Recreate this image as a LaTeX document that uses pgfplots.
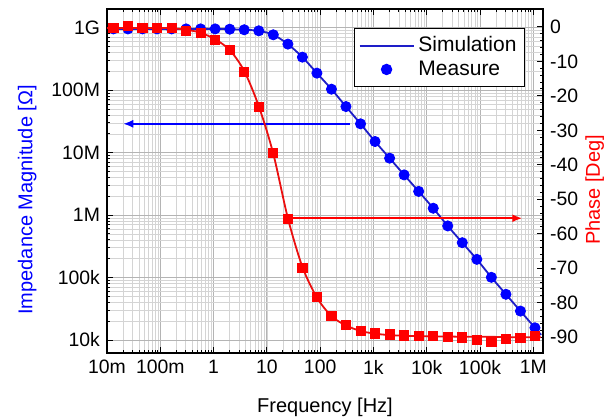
\documentclass[border=0pt]{standalone}
\usepackage{fontspec}
\setmainfont{Liberation Sans}
\usepackage{pgfplots}
\usepackage{pgfplotstable}
\pgfplotsset{compat=1.18}
\usetikzlibrary{arrows.meta}

\definecolor{mblue}{RGB}{0,0,255}
\definecolor{lblue}{RGB}{30,30,200}
\definecolor{mred}{RGB}{255,0,0}
\definecolor{lred}{RGB}{235,15,15}
\definecolor{gridmaj}{RGB}{180,180,180}
\definecolor{gridmin}{RGB}{212,212,212}

\pgfplotsset{
  lineleg/.style={legend image code/.code={\draw[##1] (0pt,0pt) -- (27pt,0pt);}},
  markleg/.style={legend image code/.code={\draw[##1] plot coordinates {(13.5pt,0pt)};}},
}

% measured points: frequency [Hz], |Z| [Ohm], phase [deg]
\pgfplotstableread{
f        z       ph
0.0132   9.6e8   -0.4
0.0247   9.6e8   0.3
0.0463   9.6e8   -0.4
0.0868   9.6e8   -0.4
0.163    9.6e8   -0.4
0.305    9.6e8   -1.1
0.571    9.6e8   -1.8
1.07     9.6e8   -3.8
2.01     9.5e8   -6.7
3.76     9.3e8   -13.0
7.05     8.95e8  -23.1
13.2     7.73e8  -36.5
24.8     5.48e8  -55.8
46.4     3.39e8  -69.9
86.9     1.88e8  -78.3
163      1.04e8  -83.9
305      5.48e7  -86.5
572      2.90e7  -88.2
1072     1.51e7  -88.9
2010     8.17e6  -89.2
3767     4.41e6  -89.5
7060     2.40e6  -89.6
13240    1.29e6  -89.7
24790    6.72e5  -89.9
46450    3.62e5  -90.1
87100    1.96e5  -90.7
163300   1.01e5  -91.4
306200   5.40e4  -90.4
573000   2.91e4  -90.2
1074000  1.57e4  -89.7
}\meas

% simulated curves
\pgfplotstableread{
f        z       ph
0.01     9.6e8   -0.3
0.0247   9.6e8   -0.3
0.0868   9.6e8   -0.3
0.163    9.6e8   -0.4
0.305    9.6e8   -0.8
0.571    9.6e8   -1.7
1.07     9.6e8   -3.6
2.01     9.5e8   -6.7
3.76     9.3e8   -12.8
7.05     8.95e8  -23.0
13.2     7.73e8  -36.8
24.8     5.48e8  -55.5
46.4     3.39e8  -69.6
86.9     1.88e8  -78.5
163      1.04e8  -83.9
305      5.48e7  -86.6
572      2.90e7  -88.2
1072     1.51e7  -89.0
2010     8.17e6  -89.4
3767     4.41e6  -89.6
7060     2.40e6  -89.7
13240    1.29e6  -89.8
24790    6.72e5  -89.8
46450    3.62e5  -89.9
87100    1.96e5  -89.9
163300   1.01e5  -89.9
306200   5.40e4  -90.0
573000   2.91e4  -90.0
1074000  1.57e4  -90.0
1400000  1.21e4  -90.0
}\simu

\begin{document}
\begin{tikzpicture}
\pgfplotsset{
  every tick label/.append style={font=\fontsize{9.7}{11}\selectfont},
  label style={font=\fontsize{10.5}{12}\selectfont},
  tick style={black, line width=0.5pt},
  major tick length=3pt, minor tick length=1.7pt,
  axis line style={line width=0.9pt},
}
\begin{axis}[
  scale only axis, width=218pt, height=172pt,
  xmode=log, ymode=log,
  xmin=0.01, xmax=1.52e6, ymin=6.2e3, ymax=2.0e9,
  xtick={1e-2,1e-1,1,1e1,1e2,1e3,1e4,1e5,1e6},
  xticklabels={10m,100m,1,10,100,1k,10k,100k,1M},
  ytick={1e4,1e5,1e6,1e7,1e8,1e9},
  yticklabels={10k,100k,1M,10M,100M,1G},
  ytick pos=left,
  grid=both,
  major grid style={gridmaj, line width=0.4pt},
  minor grid style={gridmin, line width=0.35pt},
  xlabel={Frequency [Hz]},
  ylabel={Impedance Magnitude [Ω]},
  every axis x label/.style={at={(axis description cs:0.5,-0.131)}, anchor=north, inner sep=0pt},
  every axis y label/.style={at={(axis description cs:-0.161,0.445)}, rotate=90, anchor=south, inner sep=0pt, text=mblue},
  legend style={at={(0.959,0.945)}, anchor=north east, draw=black, line width=0.6pt,
    font=\fontsize{10.5}{12}\selectfont, row sep=-1pt, inner sep=2pt},
  legend cell align=left,
]
  \addplot[lblue, line width=0.9pt, smooth, lineleg] table[x=f, y=z] {\simu};
  \addlegendentry{Simulation}
  \addplot[only marks, mark=*, mark size=2.55pt, mblue, markleg] table[x=f, y=z] {\meas};
  \addlegendentry{Measure}
  \draw[mblue, line width=0.8pt, -{Latex[length=5pt, width=4pt]}]
    (axis cs:363,2.9e7) -- (axis cs:0.0202,2.9e7);
\end{axis}
\begin{axis}[
  scale only axis, width=218pt, height=172pt,
  xmode=log, xmin=0.01, xmax=1.52e6,
  ymin=-94.6, ymax=5.2,
  hide x axis,
  ytick={0,-10,...,-90},
  minor y tick num=4,
  ytick pos=right, yticklabel pos=right,
  /pgf/number format/assume math mode=true,
  ylabel={Phase [Deg]},
  every axis y label/.style={at={(axis description cs:1.0963,0.474)}, rotate=90, anchor=north, inner sep=0pt, text=mred},
]
  \addplot[lred, line width=0.9pt, smooth] table[x=f, y=ph] {\simu};
  \addplot[only marks, mark=square*, mark size=2.3pt, mred] table[x=f, y=ph] {\meas};
  \draw[mred, line width=0.9pt, -{Latex[length=5pt, width=4pt]}]
    (axis cs:25,-55.5) -- (axis cs:6.2e5,-55.5);
\end{axis}
\pgfresetboundingbox
\path[use as bounding box] (-53.5pt,-33pt) rectangle (250.5pt,176.5pt);
\end{tikzpicture}
\end{document}
